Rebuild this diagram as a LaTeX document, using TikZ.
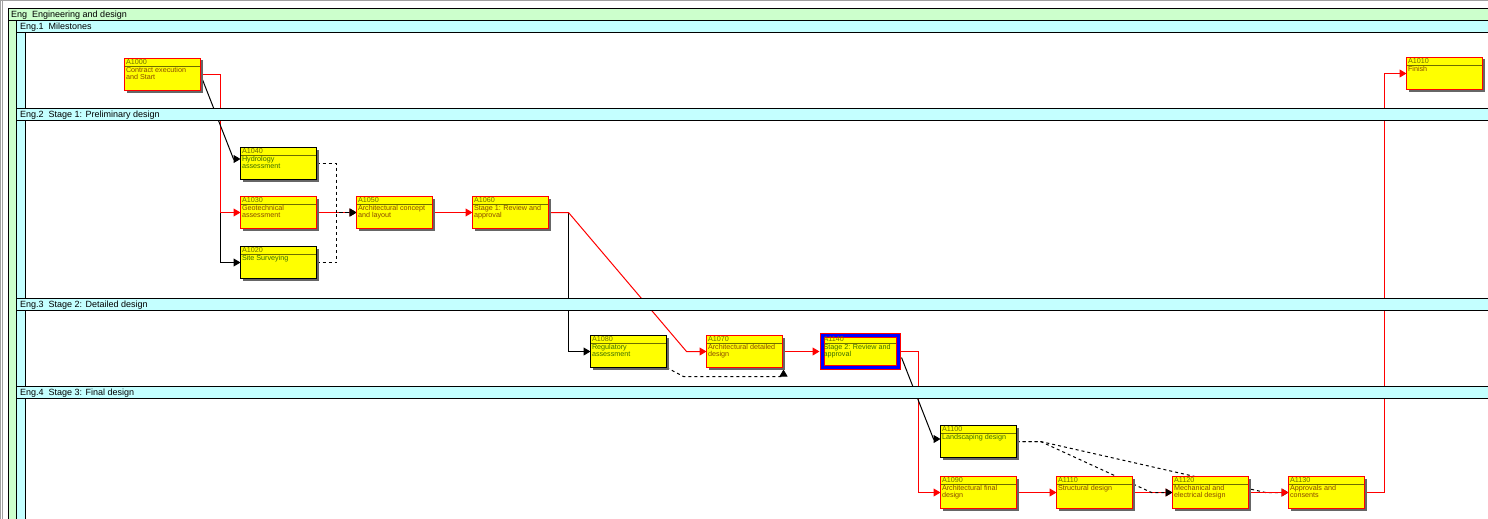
\documentclass[tikz,border=0pt]{standalone}
\usepackage{fontspec}
\setmainfont{Liberation Sans}
\definecolor{laneGreen}{HTML}{CCFFCC}
\definecolor{laneCyan}{HTML}{C4FFFF}
\definecolor{barYellow}{HTML}{FFFF00}
\definecolor{idOlive}{HTML}{6E6E00}
\definecolor{critText}{HTML}{8A4A00}
\definecolor{normText}{HTML}{3C6E00}
\definecolor{selBlue}{HTML}{0000FF}
\definecolor{frameGray}{HTML}{A0A0A0}
\usetikzlibrary{arrows.meta,positioning,calc,shadows}
\pgfdeclarelayer{lanes}
\pgfdeclarelayer{links}
\pgfsetlayers{lanes,links,main}
\newcommand{\actv}[2]{\parbox[t][30pt][t]{73pt}{\textcolor{idOlive}{#1}\\[0.5pt]#2}}

\begin{document}
\begin{tikzpicture}[
    x=1pt, y=-1pt,
    node distance=40pt,
    act/.style={draw, line width=1pt, fill=barYellow, minimum width=76pt,
                minimum height=32pt, inner sep=0pt, outer sep=0pt,
                font=\fontsize{7.2}{7}\selectfont,
                drop shadow={shadow xshift=2pt, shadow yshift=-2pt, fill=black!60, opacity=1},
                path picture={\draw[idOlive, line width=0.8pt]
                  ([yshift=-7.5pt]path picture bounding box.north west) --
                  ([yshift=-7.5pt]path picture bounding box.north east);}},
    crit/.style={act, draw=red, text=critText},
    norm/.style={act, draw=black, text=normText},
    sel/.style={act, draw=red, double=selBlue, double distance=3pt,
                line width=1pt, outer sep=2.5pt, text=normText},
    lanehead/.style={draw, line width=1pt, fill=laneCyan},
    lanetext/.style={anchor=base west, inner sep=0pt, font=\fontsize{9}{10}\selectfont},
    link/.style={-{Triangle[length=7pt,width=8pt]}, line width=1pt},
    crlink/.style={link, red},
    nlink/.style={link, black},
    dlink/.style={link, black, dashed}
  ]
    \useasboundingbox (0,0) rectangle (1488,519);

    % page and frame
    \begin{pgfonlayer}{lanes}
      \fill[white] (0,0) rectangle (1488,519);
    \end{pgfonlayer}
    \draw[frameGray, line width=1pt] (0,0.5) -- (1488,0.5);
    \draw[frameGray, line width=1pt] (0.5,0) -- (0.5,519) (2.5,0) -- (2.5,519);

    % lane columns and headers
    \fill[laneGreen] (8,8) rectangle (16,520);
    \fill[laneCyan] (16,20) rectangle (25,520);
    \draw[line width=1pt] (8.5,8) -- (8.5,520) (16.5,20) -- (16.5,520) (25.5,32) -- (25.5,520);
    \draw[lanehead, fill=laneGreen] (8.5,8.5) rectangle (1490,20.5);
    \node[lanetext] (laneEng) at (11,17.5) {Eng~~Engineering and design};
    \foreach \ly/\lid/\lname [count=\i] in {20/Eng.1/Milestones,
        108/Eng.2/{Stage 1: Preliminary design}, 298/Eng.3/{Stage 2: Detailed design},
        386/Eng.4/{Stage 3: Final design}} {
      \draw[lanehead] (16.5,\ly+0.5) rectangle (1490,\ly+12.5);
      \node[lanetext] (lane\i) at (20,\ly+9.5) {\lid~~\lname};
    }

    % milestones
    \node[crit] (a1000) at (162.5,74.5) {\actv{A1000}{Contract execution\\and Start}};
    \node[crit] (a1010) at (1444.5,73.5) {\actv{A1010}{Finish}};

    % stage 1
    \node[crit] (a1030) at (278.5,212.5) {\actv{A1030}{Geotechnical\\assessment}};
    \node[norm, above=17pt of a1030] (a1040) {\actv{A1040}{Hydrology\\assessment}};
    \node[norm, below=18pt of a1030] (a1020) {\actv{A1020}{Site Surveying}};
    \node[crit, right=of a1030] (a1050) {\actv{A1050}{Architectural concept\\and layout}};
    \node[crit, right=of a1050] (a1060) {\actv{A1060}{Stage 1: Review and\\approval}};

    % stage 2
    \node[norm] (a1080) at (628.5,351.5) {\actv{A1080}{Regulatory\\assessment}};
    \node[crit, right=of a1080] (a1070) {\actv{A1070}{Architectural detailed\\design}};
    \node[sel, right=37pt of a1070] (a1140) {\actv{A1140}{Stage 2: Review and\\approval}};

    % stage 3
    \node[crit] (a1090) at (978.5,492.5) {\actv{A1090}{Architectural final\\design}};
    \node[norm, above=19pt of a1090] (a1100) {\actv{A1100}{Landscaping design}};
    \node[crit, right=of a1090] (a1110) {\actv{A1110}{Structural design}};
    \node[crit, right=of a1110] (a1120) {\actv{A1120}{Mechanical and\\electrical design}};
    \node[crit, right=of a1120] (a1130) {\actv{A1130}{Approvals and\\consents}};

    % relationships
    \begin{pgfonlayer}{links}
      \draw[nlink] (a1000.east) -- ++(20,0) |- (a1020.west);
      \draw[crlink] (a1000.east) -- ++(20,0) |- (a1030.west);
      \draw[nlink] (a1000.east) -- ($(a1040.west)+(-7,-4.5)$) -- ($(a1040.west)+(0,-4.5)$);
      \draw[crlink] (a1030.east) -- (a1050.west);
      \draw[dlink] (a1040.east) -- ++(20,0) |- (a1050.west);
      \draw[dlink] (a1020.east) -- ++(20,0) |- (a1050.west);
      \draw[crlink] (a1050.east) -- (a1060.west);

      \draw[nlink] (a1060.east) -- ++(20,0) |- (a1080.west);
      \draw[crlink] (a1060.east) -- ++(20,0) -- ($(a1070.west)+(-20,0)$) -- (a1070.west);
      \draw[dlink] (a1080.south east) -- ++(17,9) -| ($(a1070.south east)+(1,2)$);
      \draw[crlink] (a1070.east) -- (a1140.west);

      \draw[crlink] (a1140.east) -- ++(18,0) |- (a1090.west);
      \draw[nlink] ($(a1140.east)+(1,6)$) -- ($(a1100.west)+(-7,-2.5)$) -- ($(a1100.west)+(0,-2.5)$);
      \draw[crlink] (a1090.east) -- (a1110.west);
      \draw[crlink] (a1110.east) -- (a1120.west);
      \draw[dlink] (a1100.east) -- ++(24,0) -- ($(a1120.west)+(-21,0)$) -- (a1120.west);
      \draw[dlink] (a1100.east) -- ++(24,0) -- ($(a1130.west)+(-23,0)$) -- (a1130.west);
      \draw[crlink] (a1120.east) -- (a1130.west);
      \draw[crlink] (a1130.east) -- ++(20,0) |- (a1010.west);
    \end{pgfonlayer}
  \end{tikzpicture}
\end{document}
